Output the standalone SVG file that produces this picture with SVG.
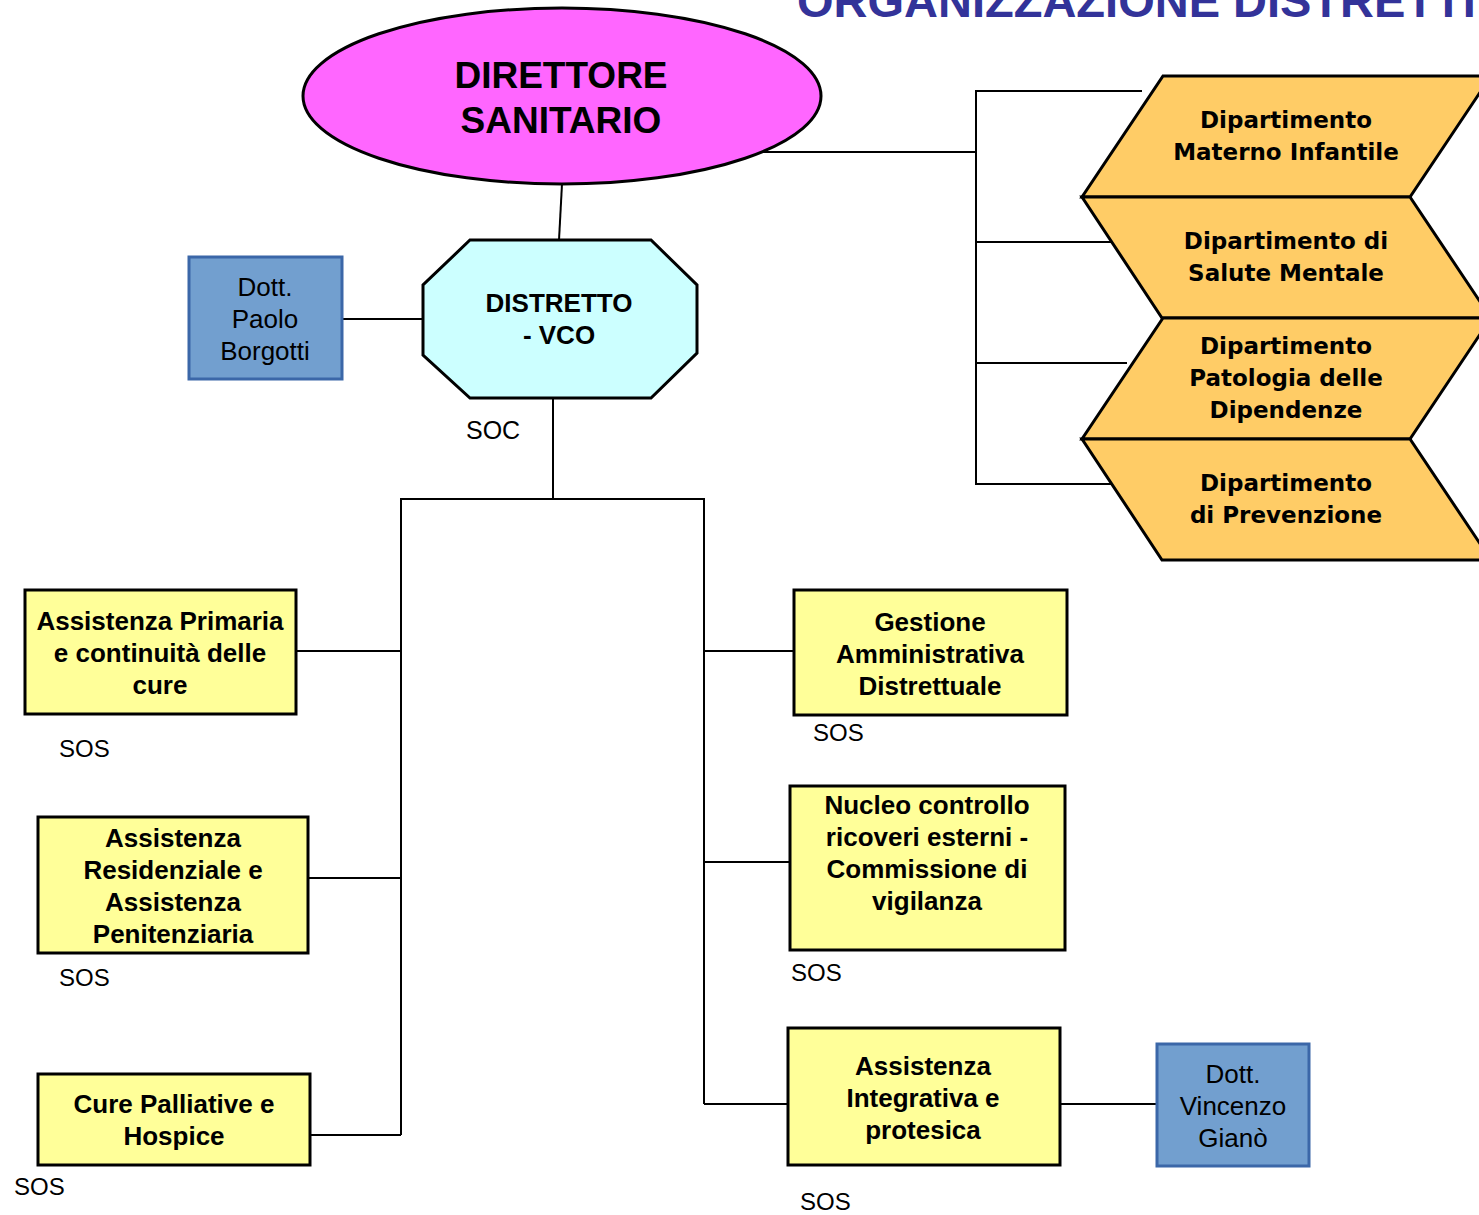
<svg xmlns="http://www.w3.org/2000/svg" width="1479" height="1215" viewBox="0 0 1479 1215">
<style>
.t{font-family:"Liberation Sans",Arial,sans-serif;font-weight:bold;font-size:26px;fill:#000;text-anchor:middle}
.r{font-family:"Liberation Sans",Arial,sans-serif;font-size:26px;fill:#000;text-anchor:middle}
.s{font-family:"Liberation Sans",Arial,sans-serif;font-size:24px;fill:#000}
.d{font-family:"DejaVu Sans",Verdana,sans-serif;font-weight:bold;font-size:23px;fill:#000;text-anchor:middle}
.y{fill:#FFFF99;stroke:#000;stroke-width:3}
.b{fill:#729FCF;stroke:#3B67A8;stroke-width:3}
.c{fill:#FFCC66;stroke:#000;stroke-width:3;stroke-linejoin:miter}
.ln{stroke:#000;stroke-width:2;fill:none}
</style>
<rect width="1479" height="1215" fill="#fff"/>
<text x="797" y="17" style="font-family:'Liberation Sans',Arial,sans-serif;font-weight:bold;font-size:47px" fill="#333399">ORGANIZZAZIONE DISTRETTI</text>
<g id="connectors" class="ln">
<line x1="562" y1="184" x2="559" y2="240"/>
<line x1="342" y1="319" x2="423" y2="319"/>
<line x1="553" y1="398" x2="553" y2="499"/>
<polyline points="401,1135 401,499 704,499 704,1104"/>
<line x1="297" y1="651" x2="401" y2="651"/>
<line x1="309" y1="878" x2="401" y2="878"/>
<line x1="311" y1="1135" x2="401" y2="1135"/>
<line x1="704" y1="651" x2="794" y2="651"/>
<line x1="704" y1="862" x2="790" y2="862"/>
<line x1="704" y1="1104" x2="788" y2="1104"/>
<line x1="1060" y1="1104" x2="1157" y2="1104"/>
<line x1="750" y1="152" x2="976" y2="152"/>
<polyline points="1142,91 976,91 976,484 1112,484"/>
<line x1="976" y1="242" x2="1112" y2="242"/>
<line x1="976" y1="363" x2="1127" y2="363"/>
</g>
<g id="direttore">
<ellipse cx="562" cy="96" rx="259" ry="88" fill="#FF66FF" stroke="#000" stroke-width="3"/>
<text class="t" x="561" y="88" style="font-size:37px">DIRETTORE</text>
<text class="t" x="561" y="133" style="font-size:37px">SANITARIO</text>
</g>
<g id="distretto">
<polygon points="470,240 651,240 697,285 697,353 651,398 470,398 423,355 423,285" fill="#CCFFFF" stroke="#000" stroke-width="3"/>
<text class="t" x="559" y="312">DISTRETTO</text>
<text class="t" x="559" y="344">- VCO</text>
<text class="s" x="466" y="439" style="font-size:25px">SOC</text>
</g>
<g id="borgotti">
<rect class="b" x="189" y="257" width="153" height="122"/>
<text class="r" x="265" y="296">Dott.</text>
<text class="r" x="265" y="328">Paolo</text>
<text class="r" x="265" y="360">Borgotti</text>
</g>
<g id="dip-materno">
<polygon class="c" points="1163,76 1491,76 1410,197 1082,197"/>
<text class="d" x="1286" y="128">Dipartimento</text>
<text class="d" x="1286" y="160">Materno Infantile</text>
</g>
<g id="dip-salute">
<polygon class="c" points="1082,197 1410,197 1491,318 1162,318"/>
<text class="d" x="1286" y="249">Dipartimento di</text>
<text class="d" x="1286" y="281">Salute Mentale</text>
</g>
<g id="dip-patologia">
<polygon class="c" points="1163,318 1491,318 1410,439 1082,439"/>
<text class="d" x="1286" y="354">Dipartimento</text>
<text class="d" x="1286" y="386">Patologia delle</text>
<text class="d" x="1286" y="418">Dipendenze</text>
</g>
<g id="dip-prevenzione">
<polygon class="c" points="1082,439 1410,439 1491,560 1162,560"/>
<text class="d" x="1286" y="491">Dipartimento</text>
<text class="d" x="1286" y="523">di Prevenzione</text>
</g>
<g id="primaria">
<rect class="y" x="25" y="590" width="271" height="124"/>
<text class="t" x="160" y="630">Assistenza Primaria</text>
<text class="t" x="160" y="662">e continuità delle</text>
<text class="t" x="160" y="694">cure</text>
<text class="s" x="59" y="757">SOS</text>
</g>
<g id="residenziale">
<rect class="y" x="38" y="817" width="270" height="136"/>
<text class="t" x="173" y="847">Assistenza</text>
<text class="t" x="173" y="879">Residenziale e</text>
<text class="t" x="173" y="911">Assistenza</text>
<text class="t" x="173" y="943">Penitenziaria</text>
<text class="s" x="59" y="986">SOS</text>
</g>
<g id="palliative">
<rect class="y" x="38" y="1074" width="272" height="91"/>
<text class="t" x="174" y="1113">Cure Palliative e</text>
<text class="t" x="174" y="1145">Hospice</text>
<text class="s" x="14" y="1195">SOS</text>
</g>
<g id="gestione">
<rect class="y" x="794" y="590" width="273" height="125"/>
<text class="t" x="930" y="631">Gestione</text>
<text class="t" x="930" y="663">Amministrativa</text>
<text class="t" x="930" y="695">Distrettuale</text>
<text class="s" x="813" y="741">SOS</text>
</g>
<g id="nucleo">
<rect class="y" x="790" y="786" width="275" height="164"/>
<text class="t" x="927" y="814">Nucleo controllo</text>
<text class="t" x="927" y="846">ricoveri esterni -</text>
<text class="t" x="927" y="878">Commissione di</text>
<text class="t" x="927" y="910">vigilanza</text>
<text class="s" x="791" y="981">SOS</text>
</g>
<g id="integrativa">
<rect class="y" x="788" y="1028" width="272" height="137"/>
<text class="t" x="923" y="1075">Assistenza</text>
<text class="t" x="923" y="1107">Integrativa e</text>
<text class="t" x="923" y="1139">protesica</text>
<text class="s" x="800" y="1210">SOS</text>
</g>
<g id="giano">
<rect class="b" x="1157" y="1044" width="152" height="122"/>
<text class="r" x="1233" y="1083">Dott.</text>
<text class="r" x="1233" y="1115">Vincenzo</text>
<text class="r" x="1233" y="1147">Gianò</text>
</g>
</svg>
